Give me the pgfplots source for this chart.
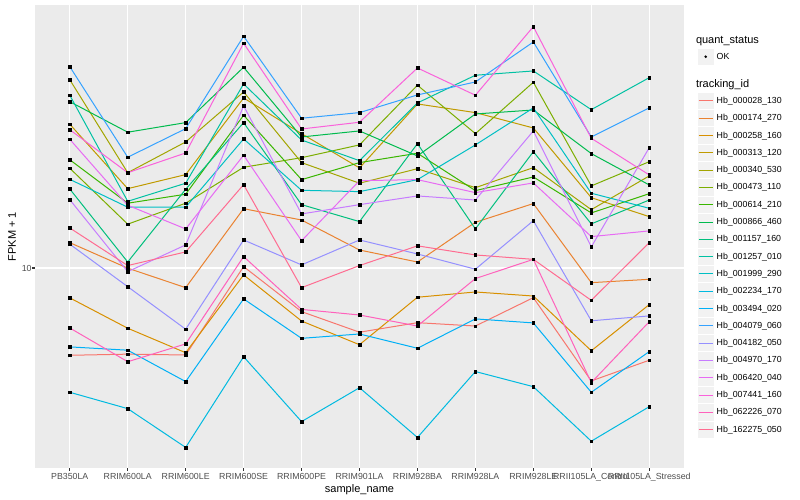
\documentclass[border=0pt]{standalone}
\usepackage{pgfplots}
\usepackage{pgfplotstable}
\pgfplotsset{compat=1.18}
\usepackage{fontspec}
\setmainfont{Liberation Sans}

\definecolor{c1}{HTML}{F8766D}
\definecolor{c2}{HTML}{EA8331}
\definecolor{c3}{HTML}{D89000}
\definecolor{c4}{HTML}{C09B00}
\definecolor{c5}{HTML}{A3A500}
\definecolor{c6}{HTML}{7CAE00}
\definecolor{c7}{HTML}{39B600}
\definecolor{c8}{HTML}{00BB4E}
\definecolor{c9}{HTML}{00BF7D}
\definecolor{c10}{HTML}{00C1A3}
\definecolor{c11}{HTML}{00BFC4}
\definecolor{c12}{HTML}{00BAE0}
\definecolor{c13}{HTML}{00B0F6}
\definecolor{c14}{HTML}{35A2FF}
\definecolor{c15}{HTML}{9590FF}
\definecolor{c16}{HTML}{C77CFF}
\definecolor{c17}{HTML}{E76BF3}
\definecolor{c18}{HTML}{FA62DB}
\definecolor{c19}{HTML}{FF62BC}
\definecolor{c20}{HTML}{FF6C91}
\definecolor{panel}{HTML}{EBEBEB}
\definecolor{keyfill}{HTML}{F2F2F2}
\definecolor{gray30}{HTML}{4D4D4D}
\definecolor{gray20}{HTML}{333333}

\pgfplotstableread{
x s1 s2 s3 s4 s5 s6 s7 s8 s9 s10 s11 s12 s13 s14 s15 s16 s17 s18 s19 s20
0 6.05 11.57 8.42 22.88 29.56 17.76 18.65 26.05 15.76 27.03 16.66 4.89 6.35 31.87 11.47 14.82 20.98 22.17 7.08 12.59
1 6.09 9.99 7.07 15.79 17.31 12.87 14.52 21.85 10.35 14.68 14.19 4.45 6.23 18.92 8.98 9.79 14.35 17.31 5.83 10.14
2 6.06 8.93 6.14 17.12 20.66 14.52 15.29 23.09 15.73 16.29 14.19 3.56 5.20 22.30 7.03 11.42 12.52 19.39 6.46 10.97
3 10.08 14.07 9.61 26.61 27.55 17.86 24.09 31.76 23.09 28.85 21.02 6.00 8.37 37.97 11.75 25.42 19.14 36.47 10.68 16.16
4 7.78 13.18 7.37 21.67 18.34 18.87 16.63 21.26 14.40 20.89 15.64 4.13 6.67 23.68 10.18 13.65 11.70 22.26 7.88 8.93
5 6.91 11.09 6.43 17.79 16.29 20.31 18.34 22.01 13.06 18.55 15.52 5.02 6.84 24.46 11.75 14.40 16.53 23.14 7.63 10.14
6 7.30 10.35 8.45 25.71 17.71 28.64 19.36 19.06 20.46 25.86 16.63 3.77 6.30 27.08 10.84 15.14 16.63 31.63 7.16 11.36
7 7.16 13.01 8.71 24.46 15.88 21.67 15.61 24.27 12.52 30.33 20.31 5.51 7.46 29.18 9.93 14.79 15.43 27.03 9.41 10.78
8 8.43 14.49 8.51 22.39 17.82 29.13 16.89 24.83 19.54 31.09 25.13 5.05 7.29 36.74 13.13 22.01 16.32 40.12 10.51 10.51
9 5.22 9.19 6.21 14.99 13.99 16.04 13.73 19.32 12.89 24.88 15.38 3.69 4.89 21.26 7.38 11.29 11.98 21.10 5.17 8.30
10 5.88 9.37 8.10 13.44 16.99 18.44 15.34 16.13 14.79 29.91 14.10 4.50 6.18 25.13 7.59 19.99 12.38 17.09 7.34 11.57
}\data

\begin{document}
\begin{tikzpicture}
\useasboundingbox (0,0) rectangle (800pt,500pt);
\begin{axis}[
  at={(35pt,32pt)}, anchor=south west,
  scale only axis, width=649pt, height=463pt,
  xmin=-0.6, xmax=10.6,
  ymode=log, ymin=3.1623, ymax=45.446,
  xtick={0,...,10},
  xticklabels={PB350LA,RRIM600LA,RRIM600LE,RRIM600SE,RRIM600PE,RRIM901LA,RRIM928BA,RRIM928LA,RRIM928LE,RRII105LA\_Control,RRII105LA\_Stressed},
  ytick={10}, yticklabels={10},
  yminorticks=false, xminorticks=false,
  grid=major,
  major grid style={white, line width=1.07pt},
  axis background/.style={fill=panel},
  axis line style={draw=none},
  tick align=outside, tick pos=left,
  major tick length=2.75pt,
  tick style={gray20, line width=1.07pt},
  ticklabel style={font=\fontsize{8.8}{10}\selectfont, text=gray30},
  xticklabel style={inner sep=0pt, anchor=north, yshift=-2pt},
  yticklabel style={inner sep=0pt, anchor=east, xshift=-0.5pt},
  every axis x label/.style={at={(axis description cs:0.5,-0.047)}, anchor=center, font=\fontsize{11}{13}\selectfont},
  every axis y label/.style={at={(axis description cs:-0.0354,0.5)}, rotate=90, anchor=center, font=\fontsize{11}{13}\selectfont},
  xlabel={sample\_name}, ylabel={FPKM + 1},
  legend style={
    at={(axis description cs:1.02003,0.93877)}, anchor=north west,
    draw=none, fill=none, inner sep=0pt, outer sep=0pt,
    row sep=0pt, column sep=2.4pt,
    nodes={inner sep=0pt, font=\fontsize{8.8}{10}\selectfont, text=black},
  },
  legend cell align=left,
  legend image code/.code={%
    \path[draw=none, fill=none] (0pt,-8.65pt) rectangle (17.3pt,8.65pt);
    \path[draw=none, fill=keyfill] (0.5pt,-8.15pt) rectangle (16.8pt,8.15pt);
    \draw[#1, line width=1pt] (1.5pt,0pt) -- (15.8pt,0pt);
  },
]
\addlegendimage{legend image code/.code={%
  \path[draw=none, fill=none] (0pt,-7.35pt) rectangle (0.1pt,7.35pt);
  \node[overlay, draw=none, fill=none, anchor=west, inner sep=0pt, font=\fontsize{11}{13}\selectfont, text=black] at (-1pt,0pt) {quant\_status};
}}
\addlegendentry{}
\addlegendimage{legend image code/.code={%
  \path[draw=none, fill=none] (0pt,-8.65pt) rectangle (17.3pt,8.65pt);
  \path[draw=none, fill=keyfill] (0.5pt,-8.15pt) rectangle (16.8pt,8.15pt);
  \path[draw=none, fill=black] (8.65pt,0pt) circle (1.4pt);
}}
\addlegendentry{OK}
\addlegendimage{legend image code/.code={%
  \path[draw=none, fill=none] (0pt,-8.05pt) rectangle (0.1pt,18.95pt);
  \node[overlay, draw=none, fill=none, anchor=west, inner sep=0pt, font=\fontsize{11}{13}\selectfont, text=black] at (-1pt,0pt) {tracking\_id};
}}
\addlegendentry{}

\addplot[c1, line width=1pt, no marks] table[x=x,y=s1]{\data}; \addlegendentry{Hb\_000028\_130}
\addplot[c2, line width=1pt, no marks] table[x=x,y=s2]{\data}; \addlegendentry{Hb\_000174\_270}
\addplot[c3, line width=1pt, no marks] table[x=x,y=s3]{\data}; \addlegendentry{Hb\_000258\_160}
\addplot[c4, line width=1pt, no marks] table[x=x,y=s4]{\data}; \addlegendentry{Hb\_000313\_120}
\addplot[c5, line width=1pt, no marks] table[x=x,y=s5]{\data}; \addlegendentry{Hb\_000340\_530}
\addplot[c6, line width=1pt, no marks] table[x=x,y=s6]{\data}; \addlegendentry{Hb\_000473\_110}
\addplot[c7, line width=1pt, no marks] table[x=x,y=s7]{\data}; \addlegendentry{Hb\_000614\_210}
\addplot[c8, line width=1pt, no marks] table[x=x,y=s8]{\data}; \addlegendentry{Hb\_000866\_460}
\addplot[c9, line width=1pt, no marks] table[x=x,y=s9]{\data}; \addlegendentry{Hb\_001157\_160}
\addplot[c10, line width=1pt, no marks] table[x=x,y=s10]{\data}; \addlegendentry{Hb\_001257\_010}
\addplot[c11, line width=1pt, no marks] table[x=x,y=s11]{\data}; \addlegendentry{Hb\_001999\_290}
\addplot[c12, line width=1pt, no marks] table[x=x,y=s12]{\data}; \addlegendentry{Hb\_002234\_170}
\addplot[c13, line width=1pt, no marks] table[x=x,y=s13]{\data}; \addlegendentry{Hb\_003494\_020}
\addplot[c14, line width=1pt, no marks] table[x=x,y=s14]{\data}; \addlegendentry{Hb\_004079\_060}
\addplot[c15, line width=1pt, no marks] table[x=x,y=s15]{\data}; \addlegendentry{Hb\_004182\_050}
\addplot[c16, line width=1pt, no marks] table[x=x,y=s16]{\data}; \addlegendentry{Hb\_004970\_170}
\addplot[c17, line width=1pt, no marks] table[x=x,y=s17]{\data}; \addlegendentry{Hb\_006420\_040}
\addplot[c18, line width=1pt, no marks] table[x=x,y=s18]{\data}; \addlegendentry{Hb\_007441\_160}
\addplot[c19, line width=1pt, no marks] table[x=x,y=s19]{\data}; \addlegendentry{Hb\_062226\_070}
\addplot[c20, line width=1pt, no marks] table[x=x,y=s20]{\data}; \addlegendentry{Hb\_162275\_050}

\pgfplotsinvokeforeach{1,...,20}{%
  \addplot[forget plot, only marks, mark=square*, mark size=1.3pt, black] table[x=x,y=s#1]{\data};
}
\end{axis}
\end{tikzpicture}
\end{document}
